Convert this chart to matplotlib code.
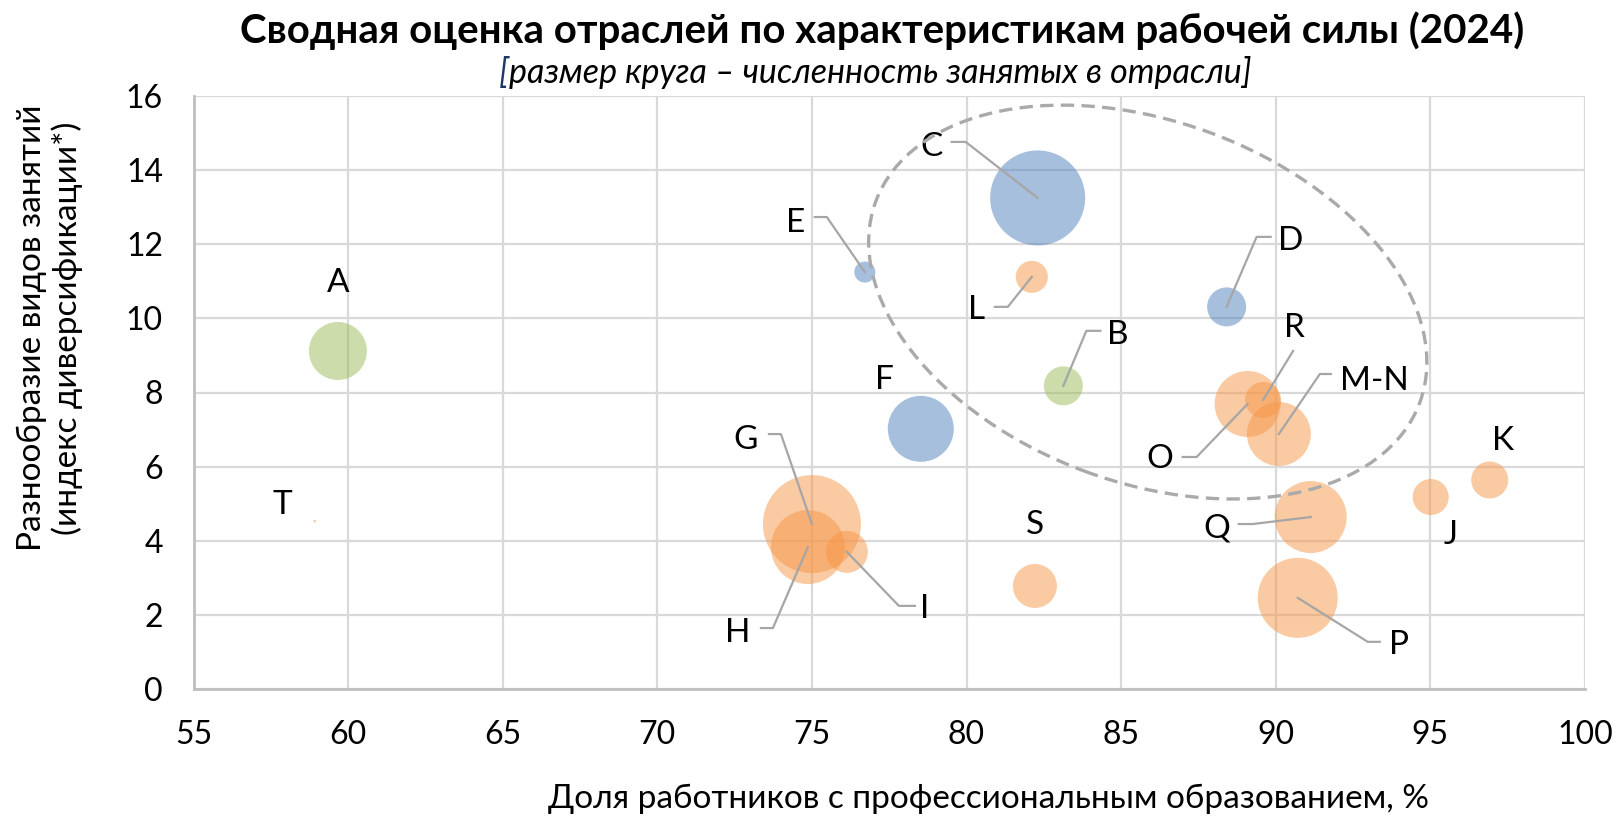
import numpy as np
import matplotlib.pyplot as plt
from matplotlib.patches import Ellipse
from matplotlib import transforms

plt.rcParams['font.family'] = ['Lato', 'Liberation Sans', 'DejaVu Sans']

# Отрасли (ОКВЭД), доля с проф. образованием, индекс диверсификации, численность занятых (тыс.)
codes = ['A', 'B', 'C', 'D', 'E', 'F', 'G', 'H', 'I', 'J',
         'K', 'L', 'M-N', 'O', 'P', 'Q', 'R', 'S', 'T']
edu_share = [59.67, 83.13, 82.30, 88.41, 76.71, 78.52, 75.00, 74.87, 76.13, 95.01,
             96.92, 82.11, 90.10, 89.09, 90.71, 91.13, 89.59, 82.21, 58.92]
diversity = [9.12, 8.18, 13.25, 10.31, 11.25, 7.02, 4.45, 3.83, 3.70, 5.18,
             5.64, 11.12, 6.88, 7.69, 2.46, 4.64, 7.80, 2.78, 4.53]
employed = [4030, 1820, 10810, 1820, 530, 5220, 11500, 6560, 2110, 1550,
            1640, 1230, 4900, 5220, 7660, 6210, 1550, 2320, 8]
group = ['prim', 'prim', 'ind', 'ind', 'ind', 'ind', 'serv', 'serv', 'serv', 'serv',
         'serv', 'serv', 'serv', 'serv', 'serv', 'serv', 'serv', 'serv', 'serv']

colors = {'prim': '#9BBB59', 'ind': '#4F81BD', 'serv': '#F79646'}

# подписи: смещение текста от центра круга (px) и выноска (начало, излом)
label_pos = {
    'A': (0, 70), 'B': (54, 53), 'C': (-106, 53), 'D': (64, 68), 'E': (-69, 52),
    'F': (-36, 51), 'G': (-66, 87), 'H': (-70, -83), 'I': (78, -55), 'J': (20, -35),
    'K': (13, 41), 'L': (-55, -31), 'M-N': (96, 56), 'O': (-88, -53), 'P': (101, -45),
    'Q': (-94, -9), 'R': (31, 74), 'S': (0, 63), 'T': (-32, 19),
}
leaders = {
    'B': [(37, 55), (23, 55)], 'C': [(-86, 56), (-72, 56)], 'D': [(44, 70), (30, 70)],
    'E': [(-50, 55), (-38, 55)], 'G': [(-43, 90), (-31, 90)], 'H': [(-47, -81), (-35, -81)],
    'I': [(68, -54), (52, -54)], 'L': [(-37, -30), (-24, -30)], 'M-N': [(52, 60), (41, 60)],
    'O': [(-65, -53), (-51, -53)], 'P': [(82, -44), (70, -44)], 'Q': [(-72, -7), (-58, -7)],
    'R': [(30, 49)],
}

W, H = 1617, 818
fig = plt.figure(figsize=(W / 100, H / 100), dpi=100)
ax = fig.add_axes([193.5 / W, 1 - 689 / H, (1585 - 193.5) / W, (689 - 96) / H])
ax.set_xlim(55, 100)
ax.set_ylim(0, 16)
ax.set_xticks(np.arange(55, 101, 5))
ax.set_yticks(np.arange(0, 17, 2))
ax.grid(True, color='#d9d9d9', linewidth=1.6)
ax.set_axisbelow(True)
for s in ['top', 'right']:
    ax.spines[s].set_visible(False)
for s in ['left', 'bottom']:
    ax.spines[s].set_color('#bfbfbf')
    ax.spines[s].set_linewidth(2)
ax.tick_params(length=0, labelsize=23, pad=22)

# размер круга: диаметр 98 px для 11500 тыс.
emp = np.array(employed, dtype=float)
diam_px = 98 * np.sqrt(emp / 11500)
sizes = (diam_px * 0.72) ** 2
ax.scatter(edu_share, diversity, s=sizes, c=[colors[g] for g in group],
           alpha=0.5, edgecolors='none', zorder=3)

to_disp = ax.transData.transform
to_data = ax.transData.inverted().transform
cap = 23
for code, x, y in zip(codes, edu_share, diversity):
    cx, cy = to_disp((x, y))
    dx, dy = label_pos[code]
    tx, ty = to_data((cx + dx, cy + dy - cap / 2))
    ax.text(tx, ty, code, ha='center', va='baseline', fontsize=24, zorder=5)
    if code in leaders:
        pts = [(cx + px, cy + py) for px, py in leaders[code]] + [(cx, cy)]
        pts = to_data(np.array(pts))
        ax.plot(pts[:, 0], pts[:, 1], color='#a6a6a6', lw=1.6, zorder=4)

# пунктирный эллипс вокруг группы отраслей
trans = fig.dpi_scale_trans + transforms.ScaledTranslation(85.86, 10.44, ax.transData)
ax.add_patch(Ellipse((0, 0), 5.8, 3.61, angle=-20.3, transform=trans, fill=False,
                     edgecolor='#aaaaaa', lw=2.4, linestyle=(0, (4.0, 2.2)), zorder=6))

fig.text(882 / W, 1 - 31 / H, 'Сводная оценка отраслей по характеристикам рабочей силы (2024)',
         ha='center', va='center', fontsize=29, fontweight='bold')

# подзаголовок: скобка тёмно-синим, остальное чёрным
bracket = fig.text(0, 1 - 83 / H, '[', ha='left', va='baseline', fontsize=24.5,
                   style='italic', color='#1f3864')
rest = fig.text(0, 1 - 83 / H, 'размер круга – численность занятых в отрасли]',
                ha='left', va='baseline', fontsize=24.5, style='italic')
fig.canvas.draw()
w1 = bracket.get_window_extent().width
w2 = rest.get_window_extent().width
x0 = 875 - (w1 + w2) / 2
bracket.set_x(x0 / W)
rest.set_x((x0 + w1) / W)

fig.text(988 / W, 1 - 799 / H, 'Доля работников с профессиональным образованием, %',
         ha='center', va='center', fontsize=24)
fig.text(50 / W, 1 - 328 / H, 'Разнообразие видов занятий\n(индекс диверсификации*)',
         ha='center', va='center', rotation=90, fontsize=24, linespacing=1.15,
         multialignment='center')

fig.savefig('out.png', dpi=100)
